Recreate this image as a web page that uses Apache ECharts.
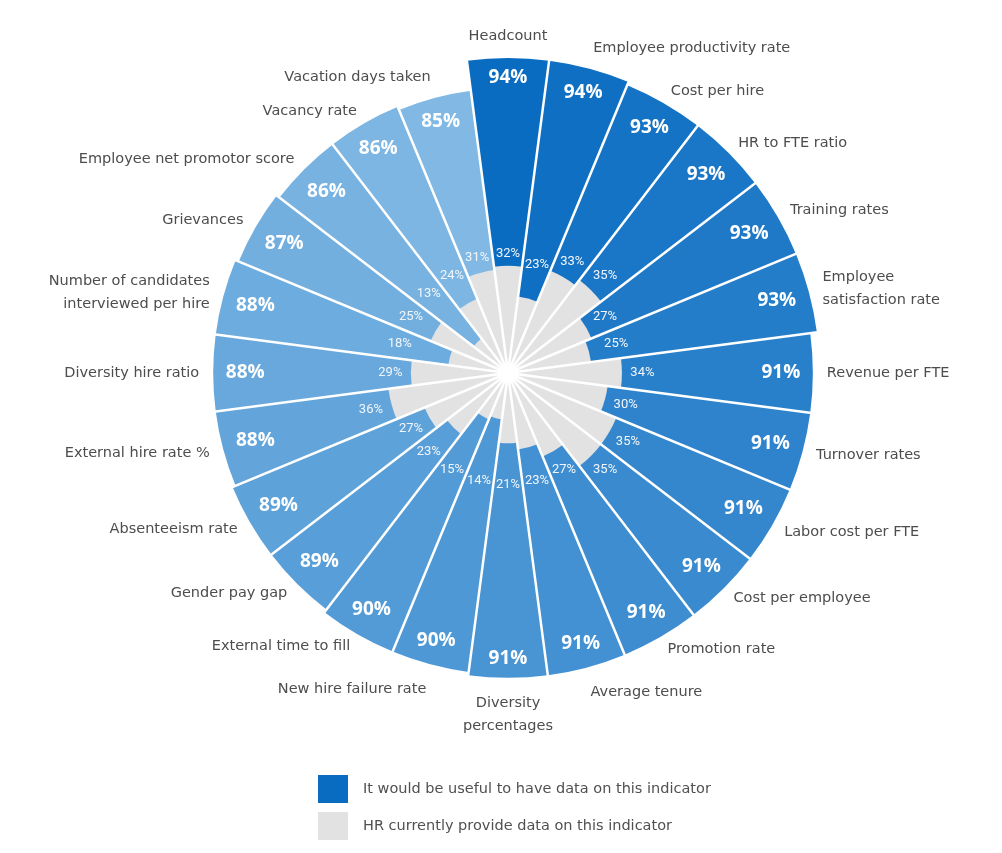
<!DOCTYPE html>
<html><head><meta charset="utf-8">
<script src="https://cdn.jsdelivr.net/npm/echarts@6/dist/echarts.min.js"></script>
<style>html,body{margin:0;padding:0;background:#fff}#c{width:1002px;height:853px}</style>
</head><body><div id="c"></div>
<script>
// ---- data ----
const categories = ['Headcount','Employee productivity rate','Cost per hire','HR to FTE ratio','Training rates','Employee\nsatisfaction rate','Revenue per FTE','Turnover rates','Labor cost per FTE','Cost per employee','Promotion rate','Average tenure','Diversity\npercentages','New hire failure rate','External time to fill','Gender pay gap','Absenteeism rate','External hire rate %','Diversity hire ratio','Number of candidates\ninterviewed per hire','Grievances','Employee net promotor score','Vacancy rate','Vacation days taken'];
const usefulValues = [94,94,93,93,93,93,91,91,91,91,91,91,91,90,90,89,89,88,88,88,87,86,86,85];
const currentValues = [32,23,33,35,27,25,34,30,35,35,27,23,21,14,15,23,27,36,29,18,25,13,24,31];
const seriesNames = ['It would be useful to have data on this indicator','HR currently provide data on this indicator'];

// ---- layout / style ----
const CX = 508, CY = 373, R = 335, MAXV = 100, PX = R / MAXV;
const N = categories.length, STEP = 360 / N;
const dark = [10,108,193], light = [130,185,228];
function col(i){
  const t = i/(N-1);
  const c = dark.map((d,k)=>Math.round(d+(light[k]-d)*t));
  return 'rgb('+c.join(',')+')';
}
function dir(i){ const a = i*STEP*Math.PI/180; return [Math.sin(a), -Math.cos(a)]; }
function ext(i,w,h){ const d = dir(i); return Math.abs(d[0])*w/2 + Math.abs(d[1])*h/2; }

const bigLabels = usefulValues.map((v,i)=>{
  const d = dir(i), dist = 12 + ext(i,40,15);
  return {value:[v,i], label:{offset:[-d[0]*dist, -d[1]*dist]}};
});
const smallLabels = currentValues.map((v,i)=>{
  const d = dir(i);
  const rr = Math.max(v*PX + ext(i,27,10) + 7, 112);
  const off = rr - v*PX;
  return {value:[v,i], label:{offset:[d[0]*off, d[1]*off]}};
});
const catLabels = usefulValues.map((v,i)=>{
  const d = dir(i), gap = 14;
  const align = d[0] > 0.1 ? 'left' : (d[0] < -0.1 ? 'right' : 'center');
  const va = d[1] < -0.9 ? 'bottom' : (d[1] > 0.9 ? 'top' : 'middle');
  const oy = d[1] < -0.9 ? 4 : 0;
  return {value:[v,i], label:{offset:[d[0]*gap, d[1]*gap + oy], align:align, verticalAlign:va}};
});

const chart = echarts.init(document.getElementById('c'));
chart.setOption({
  backgroundColor:'#fff',
  animation:false,
  polar:{center:[CX,CY], radius:R},
  angleAxis:{type:'category', data:categories, startAngle:90+STEP/2, clockwise:true, z:10,
    axisLine:{show:false}, axisTick:{show:false}, axisLabel:{show:false},
    splitLine:{show:true, lineStyle:{color:'#fff', width:2.5}}},
  radiusAxis:{type:'value', min:0, max:MAXV, show:false, splitLine:{show:false}},
  legend:{orient:'vertical', left:313, top:770, itemWidth:30, itemHeight:28, itemGap:9,
    icon:'rect', data:seriesNames,
    textStyle:{fontFamily:'DejaVu Sans', fontSize:14.5, color:'#505050', padding:[0,0,0,10]}},
  series:[
    {name:seriesNames[0], type:'bar', coordinateSystem:'polar', barCategoryGap:'0%', barGap:'-100%', z:2,
     itemStyle:{color:'rgb(10,108,193)'},
     data:usefulValues.map((v,i)=>({value:v, itemStyle:{color:col(i)}}))},
    {name:seriesNames[1], type:'bar', coordinateSystem:'polar', barCategoryGap:'0%', barGap:'-100%', z:3,
     itemStyle:{color:'#e2e2e2'}, data:currentValues},
    {type:'scatter', coordinateSystem:'polar', symbolSize:0, silent:true, z:20, data:bigLabels,
     itemStyle:{opacity:1},
     label:{show:true, position:'inside', formatter:p=>p.value[0]+'%', color:'#ffffff', opacity:1,
       fontFamily:'Open Sans', fontWeight:'bold', fontSize:19}},
    {type:'scatter', coordinateSystem:'polar', symbolSize:0, silent:true, z:20, data:smallLabels,
     itemStyle:{opacity:1},
     label:{show:true, position:'inside', formatter:p=>p.value[0]+'%', color:'#f2f6fb', opacity:1,
       fontFamily:'Roboto', fontSize:13}},
    {type:'scatter', coordinateSystem:'polar', symbolSize:0, silent:true, z:20, data:catLabels,
     itemStyle:{opacity:1},
     label:{show:true, position:'inside', formatter:p=>categories[p.value[1]], color:'#4d4d4d', opacity:1,
       fontFamily:'DejaVu Sans', fontSize:14.5, lineHeight:23}}
  ]
});
</script></body></html>
